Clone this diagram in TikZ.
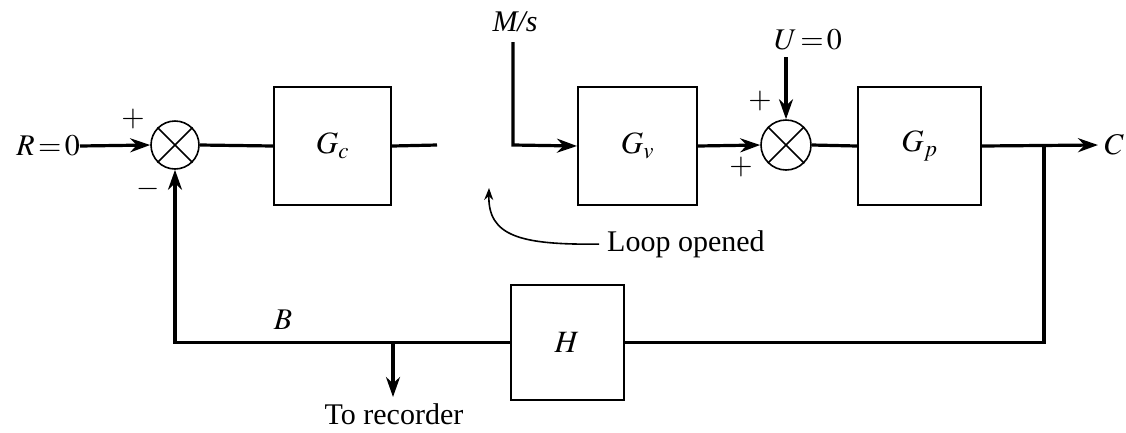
\documentclass[tikz,border=0pt]{standalone}
\usepackage{mathptmx}
\usepackage[no-math]{fontspec}
\setmainfont{Liberation Serif}
\usetikzlibrary{arrows.meta}
\begin{document}
\begin{tikzpicture}[x=1pt,y=-1pt,
  blk/.style={draw,line width=2pt,minimum width=117pt,minimum height=118pt,inner sep=0pt,font=\fontsize{31}{34}\selectfont},
  sumj/.style={draw,circle,line width=1.6pt,minimum size=48pt,inner sep=0pt},
  wire/.style={line width=3.2pt},
  arr/.style={wire,-{Stealth[length=20pt,width=14pt]}},
  lbl/.style={inner sep=0pt,font=\fontsize{30}{33}\selectfont},
  sgn/.style={inner sep=0pt,font=\fontsize{30}{32}\selectfont}]
\useasboundingbox (0,0) rectangle (1126,432);
% blocks
\node[sumj] (s1) at (175,145) {};
\draw[line width=1.6pt] (s1.north west) -- (s1.south east) (s1.north east) -- (s1.south west);
\node[sumj,minimum size=50pt] (s2) at (786,145) {};
\draw[line width=1.6pt] (s2.north west) -- (s2.south east) (s2.north east) -- (s2.south west);
\node[blk] (gc) at (332.5,146) {$G_c$};
\node[blk,minimum width=119pt] (gv) at (637.5,146) {$G_v$};
\node[blk,minimum width=123pt] (gp) at (919.5,146) {$G_p$};
\node[blk,minimum width=113pt,minimum height=115pt] (h) at (567,342.5) {$H$};
% labels
\node[lbl,anchor=east] (r) at (80,146) {$R\!=\!0$};
\node[lbl] (ms) at (515,22) {\textit{M/s}};
\node[lbl] (u) at (808,40) {$U\!=\!0$};
\node[lbl,anchor=east] (c) at (1124,145) {$C$};
\node[lbl] (b) at (283,320) {$B$};
\node[lbl] (rec) at (394,414) {To recorder};
\node[lbl,anchor=west] (lo) at (607,244) {Loop opened};
\node[sgn] (p1) at (133,119) {$+$};
\node[sgn] (m1) at (148,189) {$-$};
\node[sgn] (p2) at (760,101) {$+$};
\node[sgn] (p3) at (741,167) {$+$};
% coordinates
\coordinate (open) at (437,145);
\coordinate (mstop) at (513,42);
\coordinate (mscorner) at (513,145);
\coordinate (utop) at (786,57);
\coordinate (cend) at (1098,145);
\coordinate (br) at (1044,145);
\coordinate (tap) at (393,342);
\coordinate (tapend) at (393,397);
\coordinate (lotip) at (489,188);
% connectors
\draw[arr] (r.east) -- (s1.west);
\draw[wire] (s1.east) -- (gc.west);
\draw[wire] (gc.east) -- (open);
\draw[arr] (mstop) -- (mscorner) -- (gv.west);
\draw[arr] (gv.east) -- (s2.west);
\draw[arr] (utop) -- (s2.north);
\draw[wire] (s2.east) -- (gp.west);
\draw[arr] (gp.east) -- (cend);
\draw[wire] (br) |- (h.east);
\draw[arr] (h.west) -| (s1.south);
\draw[arr] (tap) -- (tapend);
\draw[line width=1.6pt,shorten <=8pt,-{Stealth[length=12pt,width=9pt]}] (lo.west) .. controls (520,245) and (488,236) .. (lotip);
\end{tikzpicture}
\end{document}
